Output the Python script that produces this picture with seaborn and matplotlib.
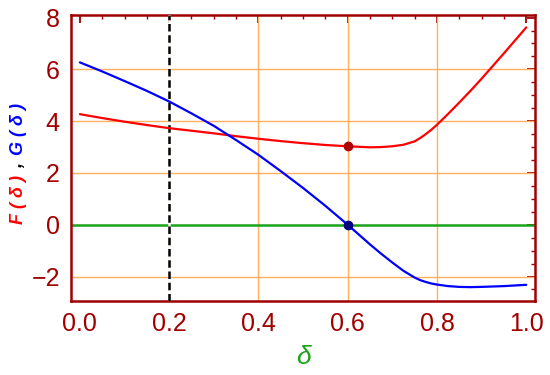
import numpy as np
import pandas as pd
import matplotlib
matplotlib.use('Agg')
import matplotlib.pyplot as plt
from matplotlib.ticker import MultipleLocator
import seaborn as sns

# values
delta = [0.0, 0.05, 0.1, 0.15, 0.2, 0.25, 0.3, 0.35, 0.4, 0.45, 0.5, 0.55, 0.6,
         0.625, 0.65, 0.675, 0.7, 0.725, 0.75, 0.7625, 0.775, 0.7875, 0.8, 0.825,
         0.85, 0.875, 0.9, 0.95, 1.0]
F_vals = [4.27, 4.12, 3.98, 3.85, 3.73, 3.63, 3.53, 3.42, 3.32, 3.23, 3.15, 3.08, 3.03,
          3.01, 2.99, 3.0, 3.03, 3.09, 3.22, 3.35, 3.5, 3.67, 3.86, 4.28,
          4.72, 5.17, 5.64, 6.62, 7.62]
G_vals = [6.27, 5.92, 5.55, 5.17, 4.76, 4.30, 3.82, 3.27, 2.70, 2.07, 1.42, 0.73, 0.0,
          -0.38, -0.76, -1.12, -1.46, -1.78, -2.04, -2.14, -2.21, -2.27, -2.31, -2.37,
          -2.40, -2.41, -2.40, -2.37, -2.32]
delta_star = 0.2
root = 0.6
F_root = 3.03
grid_x = [0.2, 0.4, 0.6, 0.8]
grid_y = [-2, 2, 4, 6]

df = pd.DataFrame({'delta': delta, 'F': F_vals, 'G': G_vals})

sns.set_theme(style='white')
plt.rcParams['font.family'] = ['Liberation Sans', 'DejaVu Sans']

frame = '#A00000'
fig = plt.figure(figsize=(5.5, 3.75), dpi=100)
ax = fig.add_axes([0.129, 0.197, 0.844, 0.763])

for gx in grid_x:
    ax.axvline(gx, color='#FFB060', lw=1.0, zorder=1)
for gy in grid_y:
    ax.axhline(gy, color='#FFB060', lw=1.0, zorder=1)
ax.axhline(0, color='#1aa31a', lw=1.8, zorder=2)
ax.axvline(delta_star, color='white', lw=1.8, zorder=3)
ax.axvline(delta_star, color='black', lw=1.8, ls=(0, (3, 1.5)), zorder=4)

sns.lineplot(data=df, x='delta', y='F', color='#FF0000', lw=1.6, ax=ax, zorder=5)
sns.lineplot(data=df, x='delta', y='G', color='#0000FF', lw=1.6, ax=ax, zorder=5)
ax.plot([root], [F_root], 'o', color='#B00000', ms=6, zorder=6)
ax.plot([root], [0], 'o', color='#000080', ms=6, zorder=6)

ax.set_xlim(-0.02, 1.02)
ax.set_ylim(-2.95, 8.1)
ax.xaxis.set_minor_locator(MultipleLocator(0.05))
ax.yaxis.set_minor_locator(MultipleLocator(0.5))
ax.set_xticks([0, 0.2, 0.4, 0.6, 0.8, 1.0])
ax.set_xticklabels(['0.0', '0.2', '0.4', '0.6', '0.8', '1.0'])
ax.set_yticks([-2, 0, 2, 4, 6, 8])
ax.set_yticklabels(['\u22122', '0', '2', '4', '6', '8'])

ax.tick_params(which='both', direction='in', colors=frame, top=True, right=True,
               labelsize=18, labelcolor=frame)
ax.tick_params(which='major', length=6, width=1.3, pad=8)
ax.tick_params(which='minor', length=3, width=1.0)
for s in ax.spines.values():
    s.set_color(frame)
    s.set_linewidth(1.8)

ax.set_xlabel('\u03b4', color='#1aa31a', fontsize=19, style='italic', labelpad=6)
ax.set_ylabel('')

# multi-coloured y label, pieces stacked bottom to top
parts = [('F ( \u03b4 )', '#FF0000'), (',', 'black'), ('G ( \u03b4 )', '#0000FF')]
gaps = [0.02, 0.02, 0]
cur = 1 - 224 / 375
for (txt, col), gap in zip(parts, gaps):
    t = fig.text(0.033, cur, txt, color=col, rotation=90, fontsize=13,
                 fontweight='bold', style='italic', ha='center', va='bottom')
    fig.canvas.draw()
    bb = t.get_window_extent()
    cur = cur + bb.height / fig.bbox.height + gap

fig.savefig('out.png', dpi=100)
